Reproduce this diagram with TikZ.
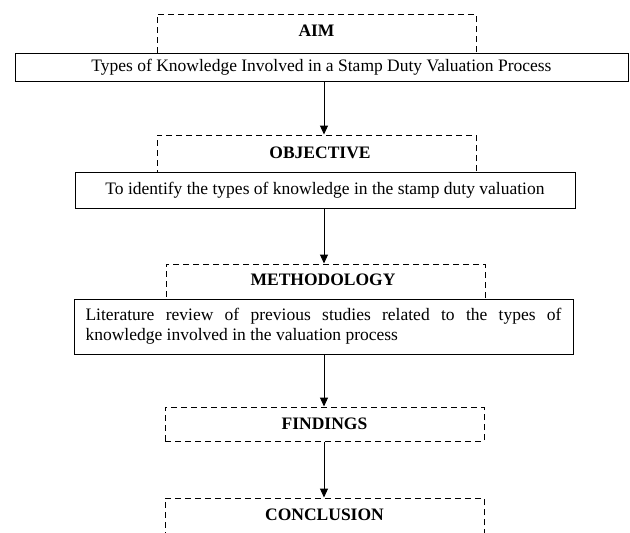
\documentclass[tikz,border=0pt]{standalone}
\usepackage{fontspec}
\setmainfont{Liberation Serif}
\usepackage{tikz}
\usetikzlibrary{arrows.meta}

\begin{document}
\begin{tikzpicture}[x=1pt, y=-1pt,
        headbox/.style={draw=black, line width=1pt, dash pattern=on 6pt off 4pt, minimum width=319pt, font=\fontsize{17.5}{20}\selectfont\bfseries, inner sep=0pt},
        textbox/.style={draw=black, line width=1pt, fill=white, font=\fontsize{17.5}{20}\selectfont, inner sep=0pt},
        flow/.style={-{Triangle[length=9pt,width=8pt]}, line width=1pt}
    ]
        \useasboundingbox (0,0) rectangle (630,533);

        % Dashed heading boxes
        \node[headbox, minimum height=39pt] (aim) at (316.5,33.5) {};
        \node[headbox, minimum height=37pt] (obj) at (316.5,153.5) {};
        \node[headbox, minimum height=35pt] (meth) at (325.5,281.5) {};
        \node[headbox, minimum height=34pt] (find) at (324.5,424) {FINDINGS};
        \node[headbox, minimum height=38pt] (concl) at (324.5,517) {};

        % Heading labels
        \node[font=\fontsize{17.5}{20}\selectfont\bfseries] (aimlab) at (316.5,31) {AIM};
        \node[font=\fontsize{17.5}{20}\selectfont\bfseries] (objlab) at (320,153) {OBJECTIVE};
        \node[font=\fontsize{17.5}{20}\selectfont\bfseries] (methlab) at (323,280) {METHODOLOGY};
        \node[font=\fontsize{17.5}{20}\selectfont\bfseries] (concllab) at (324.5,515) {CONCLUSION};

        % Solid text boxes
        \node[textbox, minimum width=613pt, minimum height=28pt] (aimtext) at (321.5,67)
            {Types of Knowledge Involved in a Stamp Duty Valuation Process};
        \node[textbox, minimum width=500pt, minimum height=36pt] (objtext) at (325,190)
            {To identify the types of knowledge in the stamp duty valuation};
        \node[textbox, minimum width=499pt, minimum height=55pt] (methtext) at (323.5,326.5)
            {\parbox{476pt}{Literature review of previous studies related to the types of\linebreak knowledge involved in the valuation process}};

        % Arrows
        \draw[flow] (aimtext.south -| 324,0) -- (obj.north -| 324,0);
        \draw[flow] (objtext.south -| 324,0) -- (meth.north -| 324,0);
        \draw[flow] (methtext.south -| 324,0) -- (find.north -| 324,0);
        \draw[flow] (find.south -| 324,0) -- (concl.north -| 324,0);
    \end{tikzpicture}
\end{document}
